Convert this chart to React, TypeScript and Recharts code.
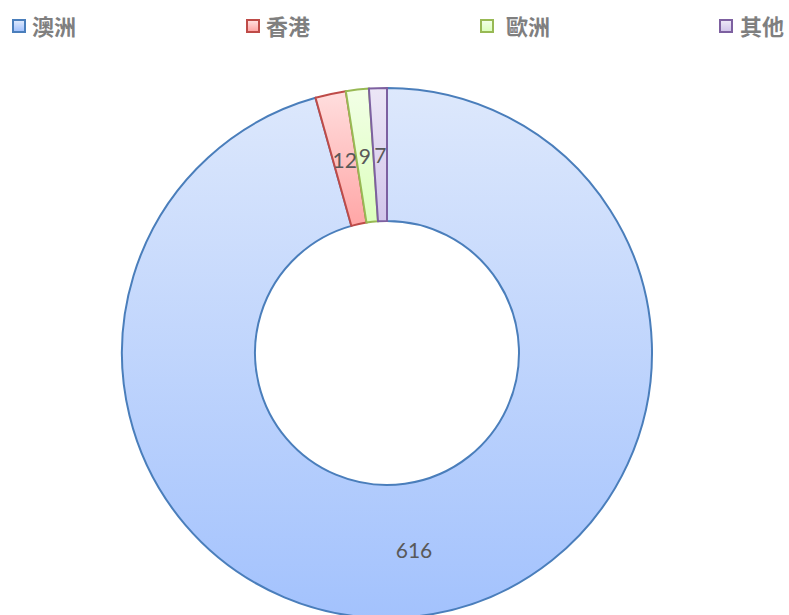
import React from 'react';
import { Cell, Pie, PieChart } from 'recharts';

// regions and counts, clockwise from 12 o'clock
const regions = ['澳洲', '香港', '歐洲', '其他'];
const counts = [616, 12, 9, 7];

// excel-ish palette: outline, gradient top, gradient bottom
const strokes = ['#4a7ebb', '#be4b48', '#98b954', '#7d60a0'];
const topFills = ['#dde8fc', '#ffdede', '#f2ffe6', '#ece6f6'];
const bottomFills = ['#a3c2fd', '#ffa6a6', '#dcffbd', '#d2c5ea'];

// legend x positions (square, text)
const legendSquareX = [12, 246, 480, 719];
const legendTextX = [32, 266, 506, 740];

const data = regions.map((name, i) => ({ name, value: counts[i] }));

const RADIAN = Math.PI / 180;

const renderLabel = ({ cx, cy, midAngle, innerRadius, outerRadius, value }: any) => {
    const r = (innerRadius + outerRadius) / 2;
    const x = cx + r * Math.cos(-midAngle * RADIAN);
    const y = cy + r * Math.sin(-midAngle * RADIAN);
    return (
        <text
            x={x}
            y={y}
            fill="#595959"
            fontSize={21}
            fontFamily="Lato, 'Open Sans', sans-serif"
            textAnchor="middle"
            dominantBaseline="central"
        >
            {value}
        </text>
    );
};

const ChartLegend = () => (
    <div style={{ position: 'absolute', left: 0, top: 0, width: 789, height: 50 }}>
        {regions.map((name, i) => (
            <React.Fragment key={name}>
                <div
                    style={{
                        position: 'absolute',
                        left: legendSquareX[i],
                        top: 19,
                        width: 10,
                        height: 10,
                        border: `2px solid ${strokes[i]}`,
                        background: `linear-gradient(${topFills[i]}, ${bottomFills[i]})`,
                    }}
                />
                <div
                    style={{
                        position: 'absolute',
                        left: legendTextX[i],
                        top: 9,
                        fontSize: 22,
                        lineHeight: '32px',
                        fontWeight: 700,
                        color: '#7f7f7f',
                        fontFamily: "'Noto Sans CJK TC', sans-serif",
                        whiteSpace: 'nowrap',
                    }}
                >
                    {name}
                </div>
            </React.Fragment>
        ))}
    </div>
);

const App = () => {
    return (
        <div style={{ position: 'absolute', left: 0, top: 0, width: 789, height: 615, background: '#fff', overflow: 'hidden' }}>
            <PieChart width={789} height={615} margin={{ top: 0, right: 0, bottom: 0, left: 0 }}>
                <defs>
                    {regions.map((name, i) => (
                        <linearGradient key={name} id={`grad${i}`} x1="0" y1="0" x2="0" y2="1">
                            <stop offset="0%" stopColor={topFills[i]} />
                            <stop offset="100%" stopColor={bottomFills[i]} />
                        </linearGradient>
                    ))}
                </defs>
                <Pie
                    data={data}
                    dataKey="value"
                    nameKey="name"
                    cx={387}
                    cy={353}
                    innerRadius={132}
                    outerRadius={265}
                    startAngle={90}
                    endAngle={-270}
                    isAnimationActive={false}
                    label={renderLabel}
                    labelLine={false}
                >
                    {data.map((d, i) => (
                        <Cell key={d.name} fill={`url(#grad${i})`} stroke={strokes[i]} strokeWidth={2} />
                    ))}
                </Pie>
            </PieChart>
            <ChartLegend />
        </div>
    );
};

export default App;
